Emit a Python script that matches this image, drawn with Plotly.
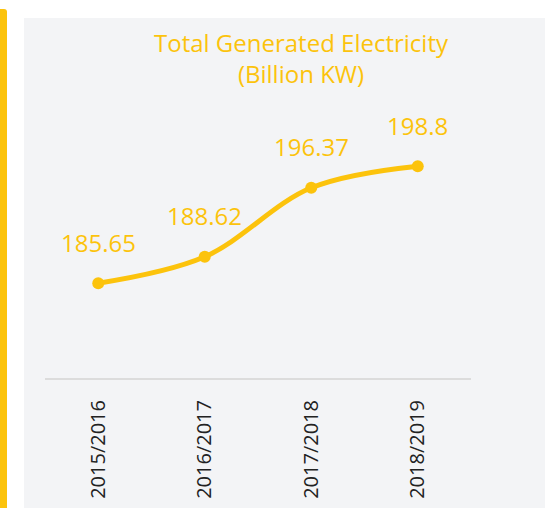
import plotly.graph_objects as go

# Annual generation figures
years = ["2015/2016", "2016/2017", "2017/2018", "2018/2019"]
generated = [185.65, 188.62, 196.37, 198.8]
value_labels = ["185.65", "188.62", "196.37", "198.8"]

YELLOW = "#fcc30c"
PANEL = "#f3f4f6"

fig = go.Figure()
fig.add_trace(go.Scatter(
    x=years, y=generated, mode="lines+markers",
    line=dict(color=YELLOW, width=5, shape="spline", smoothing=1.0),
    marker=dict(color=YELLOW, size=12),
    hoverinfo="skip", showlegend=False,
))

# value labels above each point
for yr, v, lab in zip(years, generated, value_labels):
    fig.add_annotation(x=yr, y=v, text=lab, showarrow=False, yshift=41,
                       font=dict(family="Open Sans", size=24, color=YELLOW))

W, H = 545, 508
L, R, T, B = 45, 74, 111, 130
pw, ph = W - L - R, H - T - B

def px_x(p):
    return (p - L) / pw

def px_y(p):
    return (H - B - p) / ph

shapes = [
    # light panel behind the chart
    dict(type="rect", xref="paper", yref="paper", layer="below",
         x0=px_x(24), x1=px_x(560), y0=px_y(18), y1=px_y(520),
         fillcolor=PANEL, line=dict(width=0)),
    # accent bar on the left edge
    dict(type="path", xref="paper", yref="paper", layer="below",
         path=(f"M {px_x(-2)},{px_y(520)} L {px_x(-2)},{px_y(9)} "
               f"L {px_x(4)},{px_y(9)} Q {px_x(7)},{px_y(9)} {px_x(7)},{px_y(12)} "
               f"L {px_x(7)},{px_y(520)} Z"),
         fillcolor=YELLOW, line=dict(width=0)),
]

fig.add_annotation(xref="paper", yref="paper", x=px_x(301), y=px_y(58),
                   xanchor="center", yanchor="middle",
                   text="Total Generated Electricity<br>(Billion KW)",
                   showarrow=False, align="center",
                   font=dict(family="Open Sans", size=24, color=YELLOW))

fig.update_layout(
    width=W, height=H,
    margin=dict(l=L, r=R, t=T, b=B),
    paper_bgcolor="white", plot_bgcolor="rgba(0,0,0,0)",
    shapes=shapes,
    xaxis=dict(type="category", range=[-0.5, 3.5], showgrid=False,
               showline=True, linecolor="#dcdcdc", linewidth=2,
               tickangle=-90, ticks="", ticklabelstandoff=12,
               tickfont=dict(family="Open Sans", size=20, color="#222222"),
               zeroline=False, fixedrange=True, automargin=False),
    yaxis=dict(range=[175, 205], visible=False, fixedrange=True,
               automargin=False),
)

fig.write_html("out.html")
